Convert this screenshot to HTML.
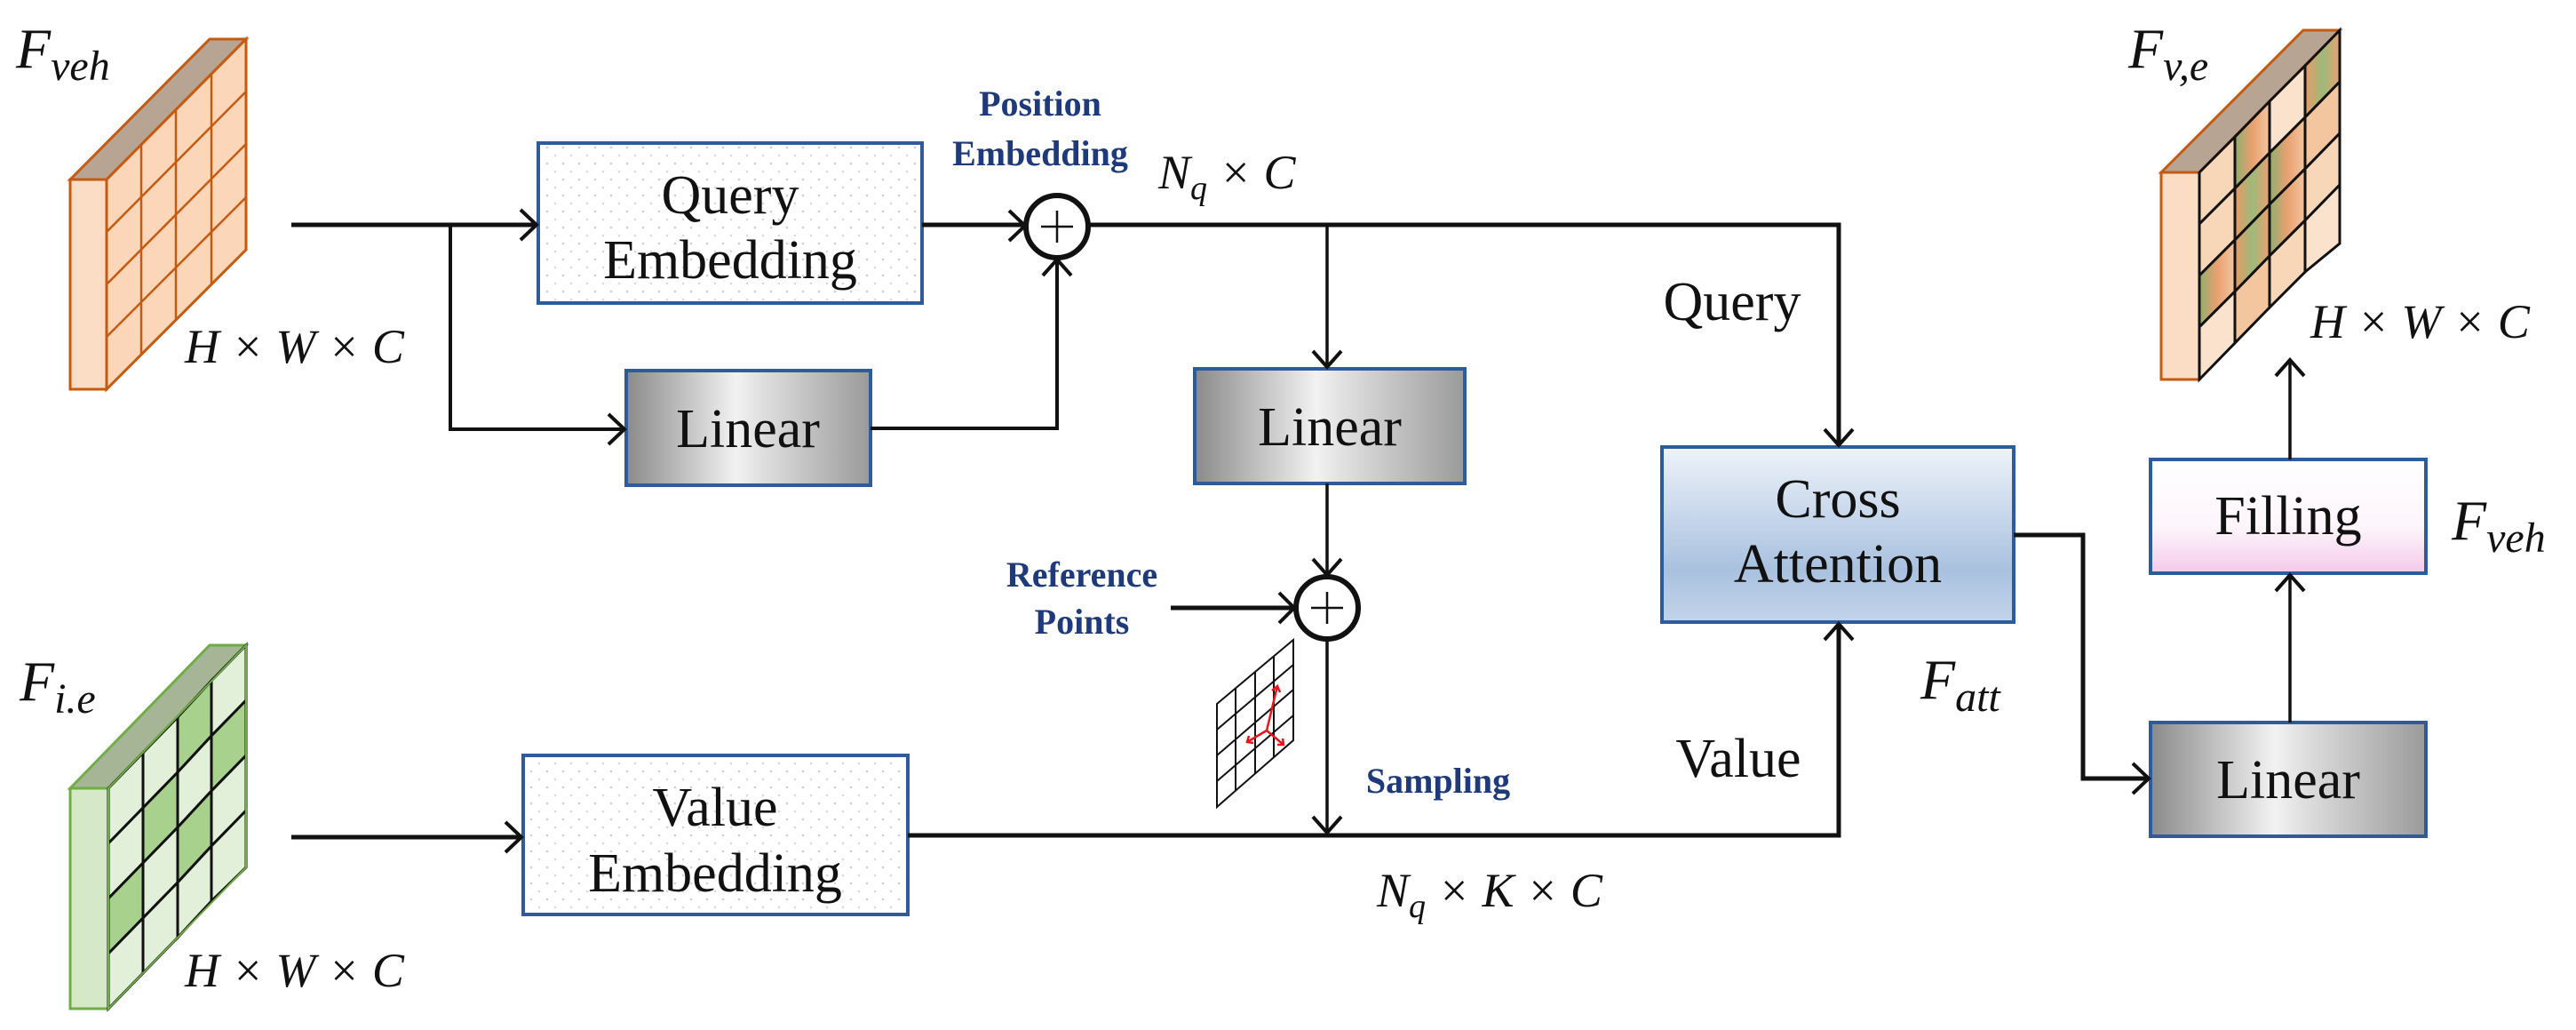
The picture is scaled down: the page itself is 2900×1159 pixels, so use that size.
<!DOCTYPE html>
<html><head><meta charset="utf-8"><style>
html,body{margin:0;padding:0;background:#fff;}
svg{display:block;}
.t{font-family:"Liberation Serif",serif;font-size:62px;fill:#111;}
.m{font-family:"Liberation Serif",serif;font-style:italic;fill:#111;}
.b{font-family:"Liberation Serif",serif;font-weight:bold;font-size:40px;fill:#1f3a7a;}
</style></head><body>
<svg width="2900" height="1159" viewBox="0 0 2900 1159" xmlns="http://www.w3.org/2000/svg">
<defs>
<marker id="ar" viewBox="0 0 20 20" refX="19" refY="10" markerWidth="11" markerHeight="11" markerUnits="userSpaceOnUse" orient="auto">
</marker>
<pattern id="dots" width="18" height="18" patternUnits="userSpaceOnUse"><rect width="18" height="18" fill="#fff"/><circle cx="4" cy="4" r="1.3" fill="#d0d0d0"/><circle cx="13" cy="13" r="1.3" fill="#d8d8d8"/></pattern>
<linearGradient id="gray" x1="0" y1="0" x2="1" y2="0"><stop offset="0" stop-color="#8a8a8a"/><stop offset="0.45" stop-color="#f2f2f2"/><stop offset="0.55" stop-color="#e0e0e0"/><stop offset="1" stop-color="#9a9a9a"/></linearGradient>
<linearGradient id="blue" x1="0" y1="0" x2="0" y2="1"><stop offset="0" stop-color="#eef3fa"/><stop offset="0.7" stop-color="#a9c1df"/><stop offset="1" stop-color="#c3d4ea"/></linearGradient>
<linearGradient id="pink" x1="0" y1="0" x2="0" y2="1"><stop offset="0" stop-color="#fff"/><stop offset="0.6" stop-color="#fdf5fb"/><stop offset="1" stop-color="#f4c8ea"/></linearGradient>
<linearGradient id="og" x1="0" y1="0" x2="1" y2="0"><stop offset="0" stop-color="#8fae6e"/><stop offset="0.5" stop-color="#e9a070"/><stop offset="1" stop-color="#f3c6a0"/></linearGradient>
<linearGradient id="go" x1="0" y1="0" x2="1" y2="0"><stop offset="0" stop-color="#e99a66"/><stop offset="0.5" stop-color="#9dba7a"/><stop offset="1" stop-color="#e9a070"/></linearGradient>
</defs>

<!-- Orange input block -->
<polygon points="79,202 236,44 277,44 120,202" fill="#b7a493" stroke="#c55a11" stroke-width="3"/>
<rect x="79" y="202" width="41" height="236" fill="#fbdcc4" stroke="#c55a11" stroke-width="3"/>
<polygon points="120,202 277,44 277,281 120,438" fill="#fbd6b8" stroke="#c55a11" stroke-width="3"/>
<g stroke="#c55a11" stroke-width="2.5" fill="none">
<line x1="159" y1="163" x2="159" y2="399"/><line x1="198" y1="123" x2="198" y2="360"/><line x1="238" y1="84" x2="238" y2="320"/>
<line x1="120" y1="261" x2="277" y2="103"/><line x1="120" y1="320" x2="277" y2="162"/><line x1="120" y1="379" x2="277" y2="222"/>
</g>

<!-- Green input block -->
<polygon points="79,887 236,726 277,726 122,887" fill="#a5b596" stroke="#70ad47" stroke-width="3"/>
<rect x="79" y="887" width="43" height="248" fill="#d5e8c8" stroke="#70ad47" stroke-width="3"/>
<g stroke="#111" stroke-width="3">
<polygon points="122,887 161,847 161,909 122,949" fill="#e2efd9"/>
<polygon points="161,847 200,807 200,869 161,909" fill="#e2efd9"/>
<polygon points="200,807 238,766 238,828 200,869" fill="#a9d18e"/>
<polygon points="238,766 277,726 277,788 238,828" fill="#e2efd9"/>
<polygon points="122,949 161,909 161,971 122,1011" fill="#e2efd9"/>
<polygon points="161,909 200,869 200,931 161,971" fill="#a9d18e"/>
<polygon points="200,869 238,828 238,890 200,931" fill="#e2efd9"/>
<polygon points="238,828 277,788 277,850 238,890" fill="#a9d18e"/>
<polygon points="122,1011 161,971 161,1033 122,1073" fill="#a9d18e"/>
<polygon points="161,971 200,931 200,993 161,1033" fill="#e2efd9"/>
<polygon points="200,931 238,890 238,952 200,993" fill="#a9d18e"/>
<polygon points="238,890 277,850 277,912 238,952" fill="#e2efd9"/>
<polygon points="122,1073 161,1033 161,1095 122,1135" fill="#e2efd9"/>
<polygon points="161,1033 200,993 200,1055 161,1095" fill="#e2efd9"/>
<polygon points="200,993 238,952 238,1014 200,1055" fill="#e2efd9"/>
<polygon points="238,952 277,912 277,976 238,1014" fill="#e2efd9"/>
</g>
<polygon points="122,887 277,726 277,976 122,1135" fill="none" stroke="#70ad47" stroke-width="2"/>

<!-- Output block -->
<polygon points="2433,194 2593,34 2634,34 2476,194" fill="#b7a493" stroke="#c55a11" stroke-width="3"/>
<rect x="2433" y="194" width="43" height="233" fill="#fbdcc4" stroke="#c55a11" stroke-width="3"/>
<g stroke="#111" stroke-width="3">
<polygon points="2476,194 2516,154 2516,212 2476,252" fill="#f8d6b8"/>
<polygon points="2516,154 2555,114 2555,172 2516,212" fill="url(#og)"/>
<polygon points="2555,114 2595,74 2595,132 2555,172" fill="#fbe2cc"/>
<polygon points="2595,74 2634,34 2634,92 2595,132" fill="url(#go)"/>
<polygon points="2476,252 2516,212 2516,270 2476,310" fill="#f8d6b8"/>
<polygon points="2516,212 2555,172 2555,230 2516,270" fill="url(#go)"/>
<polygon points="2555,172 2595,132 2595,190 2555,230" fill="url(#og)"/>
<polygon points="2595,132 2634,92 2634,150 2595,190" fill="#f3c6a0"/>
<polygon points="2476,310 2516,270 2516,328 2476,368" fill="url(#og)"/>
<polygon points="2516,270 2555,230 2555,288 2516,328" fill="url(#go)"/>
<polygon points="2555,230 2595,190 2595,248 2555,288" fill="url(#og)"/>
<polygon points="2595,190 2634,150 2634,208 2595,248" fill="#f8d6b8"/>
<polygon points="2476,368 2516,328 2516,386 2476,427" fill="#fbe2cc"/>
<polygon points="2516,328 2555,288 2555,346 2516,386" fill="#f3c6a0"/>
<polygon points="2555,288 2595,248 2595,306 2555,346" fill="#f8d6b8"/>
<polygon points="2595,248 2634,208 2634,274 2595,306" fill="#fbe2cc"/>
</g>

<!-- Boxes -->
<rect x="606" y="161" width="432" height="180" fill="url(#dots)" stroke="#2e5c9a" stroke-width="4"/>
<text class="t" x="822" y="240" text-anchor="middle">Query</text>
<text class="t" x="822" y="313" text-anchor="middle">Embedding</text>

<rect x="589" y="850" width="433" height="179" fill="url(#dots)" stroke="#2e5c9a" stroke-width="4"/>
<text class="t" x="805" y="929" text-anchor="middle">Value</text>
<text class="t" x="805" y="1003" text-anchor="middle">Embedding</text>

<rect x="705" y="417" width="275" height="129" fill="url(#gray)" stroke="#2e5c9a" stroke-width="4"/>
<text class="t" x="842" y="503" text-anchor="middle">Linear</text>

<rect x="1345" y="415" width="304" height="129" fill="url(#gray)" stroke="#2e5c9a" stroke-width="4"/>
<text class="t" x="1497" y="501" text-anchor="middle">Linear</text>

<rect x="2421" y="813" width="310" height="128" fill="url(#gray)" stroke="#2e5c9a" stroke-width="4"/>
<text class="t" x="2576" y="898" text-anchor="middle">Linear</text>

<rect x="1871" y="503" width="396" height="197" fill="url(#blue)" stroke="#2e5c9a" stroke-width="4"/>
<text class="t" x="2069" y="582" text-anchor="middle">Cross</text>
<text class="t" x="2069" y="655" text-anchor="middle">Attention</text>

<rect x="2421" y="517" width="310" height="128" fill="url(#pink)" stroke="#2e5c9a" stroke-width="4"/>
<text class="t" x="2576" y="601" text-anchor="middle">Filling</text>

<!-- Circles -->
<circle cx="1190" cy="255" r="35" fill="#fff" stroke="#111" stroke-width="6"/>
<path d="M1172 255 H1208 M1190 237 V273" stroke="#111" stroke-width="2.5"/>
<circle cx="1494" cy="684" r="35" fill="#fff" stroke="#111" stroke-width="6"/>
<path d="M1476 684 H1512 M1494 666 V702" stroke="#111" stroke-width="2.5"/>

<!-- Connectors -->
<g fill="none" stroke="#111" stroke-linecap="butt">
<path d="M328 253 H604" stroke-width="5"/>
<path d="M507 253 V483 H703" stroke-width="4"/>
<path d="M1038 253 H1153" stroke-width="5"/>
<path d="M980 482 H1190 V292" stroke-width="4"/>
<path d="M1225 253 H2070 V501" stroke-width="5"/>
<path d="M1494 253 V413" stroke-width="3.5"/>
<path d="M1494 544 V647" stroke-width="3.5"/>
<path d="M1318 684 H1457" stroke-width="5"/>
<path d="M1494 720 V937" stroke-width="3.5"/>
<path d="M328 942 H587" stroke-width="5"/>
<path d="M1022 940 H2070 V702" stroke-width="5"/>
<path d="M2267 602 H2345 V876 H2419" stroke-width="5"/>
<path d="M2578 813 V647" stroke-width="3.5"/>
<path d="M2578 517 V405" stroke-width="3.5"/>
</g>
<!-- arrowheads (open V) -->
<g fill="none" stroke="#111" stroke-width="4">
<path d="M586 236 L604 253 L586 270"/>
<path d="M685 466 L703 483 L685 500"/>
<path d="M1136 237 L1154 254 L1136 271"/>
<path d="M1174 310 L1190 292 L1206 310"/>
<path d="M2054 483 L2070 501 L2086 483"/>
<path d="M1478 395 L1494 413 L1510 395"/>
<path d="M1478 629 L1494 647 L1510 629"/>
<path d="M1440 667 L1457 684 L1440 701"/>
<path d="M1478 919 L1494 937 L1510 919"/>
<path d="M569 925 L587 942 L569 959"/>
<path d="M2054 720 L2070 702 L2086 720"/>
<path d="M2401 859 L2419 876 L2401 893"/>
<path d="M2562 665 L2578 647 L2594 665"/>
<path d="M2562 423 L2578 405 L2594 423"/>
</g>

<!-- small sampling grid -->
<g stroke="#111" stroke-width="2" fill="none">
<polygon points="1370,792 1456,720 1456,833 1370,908"/>
<line x1="1391" y1="774" x2="1391" y2="890"/><line x1="1413" y1="756" x2="1413" y2="871"/><line x1="1434" y1="738" x2="1434" y2="852"/>
<line x1="1370" y1="821" x2="1456" y2="748"/><line x1="1370" y1="850" x2="1456" y2="776"/><line x1="1370" y1="879" x2="1456" y2="805"/>
</g>
<g stroke="#e8141c" stroke-width="2.5" fill="none">
<path d="M1426 822 L1438 772 M1432 777 L1438 772 L1441 779"/>
<path d="M1426 822 L1404 835 M1406 828 L1404 835 L1411 836"/>
<path d="M1426 822 L1445 838 M1438 838 L1445 838 L1444 831"/>
</g>

<!-- Labels -->
<text class="b" x="1171" y="130" text-anchor="middle">Position</text>
<text class="b" x="1171" y="186" text-anchor="middle">Embedding</text>
<text class="b" x="1218" y="660" text-anchor="middle">Reference</text>
<text class="b" x="1218" y="713" text-anchor="middle">Points</text>
<text class="b" x="1619" y="892" text-anchor="middle">Sampling</text>

<text class="t" x="1950" y="360" text-anchor="middle">Query</text>
<text class="t" x="1957" y="874" text-anchor="middle">Value</text>

<text class="m" x="18" y="76" font-size="64">F<tspan font-size="48" dy="14">veh</tspan></text>
<text class="m" x="22" y="788" font-size="64">F<tspan font-size="48" dy="14">i.e</tspan></text>
<text class="m" x="2396" y="76" font-size="64">F<tspan font-size="48" dy="14">v,e</tspan></text>
<text class="m" x="2760" y="607" font-size="64">F<tspan font-size="48" dy="14">veh</tspan></text>
<text class="m" x="2162" y="786" font-size="64">F<tspan font-size="48" dy="14">att</tspan></text>

<text class="m" x="208" y="408" font-size="54">H × W × C</text>
<text class="m" x="208" y="1110" font-size="54">H × W × C</text>
<text class="m" x="2601" y="380" font-size="54">H × W × C</text>
<text class="m" x="1304" y="212" font-size="54">N<tspan font-size="38" dy="12">q</tspan><tspan dy="-12"> × C</tspan></text>
<text class="m" x="1550" y="1020" font-size="54">N<tspan font-size="38" dy="12">q</tspan><tspan dy="-12"> × K × C</tspan></text>
</svg>
</body></html>
